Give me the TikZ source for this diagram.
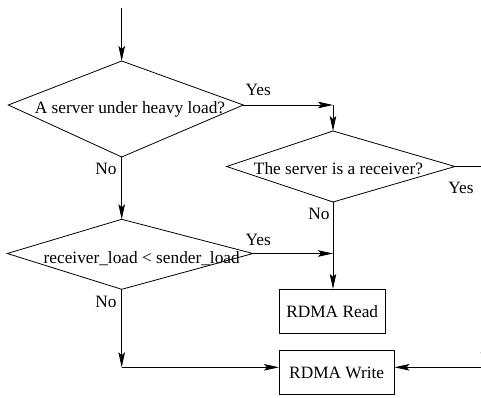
\documentclass[tikz,border=0pt]{standalone}
\usepackage{fontspec}
\setmainfont{Liberation Serif}
\usetikzlibrary{arrows.meta,calc}
\begin{document}
\begin{tikzpicture}[x=1pt,y=-1pt,line width=0.8pt,
  txt/.style={font=\fontsize{17.3}{20}\selectfont,inner sep=0pt,anchor=base},
  box/.style={draw,rectangle,font=\fontsize{17.3}{20}\selectfont,inner sep=0pt},
  arr/.style={-{Stealth[length=15pt,width=6.5pt,inset=3pt]}}]
\useasboundingbox (0,0) rectangle (481,398);
\clip (0,0) rectangle (481,398);
% coordinates of diamond vertices
\coordinate (start) at (121.7,8.3);
\coordinate (d1n) at (121.7,61);
\coordinate (d1e) at (243.3,105);
\coordinate (d1s) at (121.7,157);
\coordinate (d1w) at (8.3,105);
\coordinate (d2n) at (333,131);
\coordinate (d2e) at (455,166.5);
\coordinate (d2s) at (333,202);
\coordinate (d2w) at (226.7,166.5);
\coordinate (d3n) at (121.7,219.3);
\coordinate (d3e) at (253,253.5);
\coordinate (d3s) at (121.7,289.3);
\coordinate (d3w) at (7.3,253.5);
\coordinate (c1) at (333,105);
\coordinate (c3) at (121.7,367.3);
\coordinate (rt) at (484,166.5);
\coordinate (rb) at (484,367.3);
% diamonds
\draw (d1n) -- (d1e) -- (d1s) -- (d1w) -- cycle;
\draw (d2n) -- (d2e) -- (d2s) -- (d2w) -- cycle;
\draw (d3n) -- (d3e) -- (d3s) -- (d3w) -- cycle;
\node[txt] (t1) at (130,113.3) {A server under heavy load?};
\node[txt] (t2) at (338.5,175) {The server is a receiver?};
\node[txt] (t3) at (141.7,263.3) {receiver\_load < sender\_load};
% boxes
\node[box,minimum width=105.7pt,minimum height=44pt] (rd) at (332.2,311.3) {RDMA Read};
\node[box,minimum width=114.7pt,minimum height=43.6pt] (wr) at (336.7,372.5) {RDMA Write};
% connectors
\draw[arr] (start) -- (d1n);
\draw[arr] (d1e) -- (c1);
\draw[arr] (c1) -- (d2n);
\draw[arr] (d1s) -- (d3n);
\draw[arr] (d2s) -- (d2s |- rd.north);
\draw[arr] (d3e) -- (d2s |- d3e);
\draw[arr] (d3s) -- (c3);
\draw[arr] (c3) -- (c3 -| wr.west);
\draw (d2e) -- (rt);
\draw[arr] (rt) -- (rb);
\draw[arr] (rb) -- (rb -| wr.east);
% labels
\node[txt] (y1) at (258.3,96) {Yes};
\node[txt] (n1) at (106,175) {No};
\node[txt] (y2) at (461,193.3) {Yes};
\node[txt] (n2) at (319,219.3) {No};
\node[txt] (y3) at (258.3,245) {Yes};
\node[txt] (n3) at (106,307.3) {No};
\end{tikzpicture}
\end{document}
